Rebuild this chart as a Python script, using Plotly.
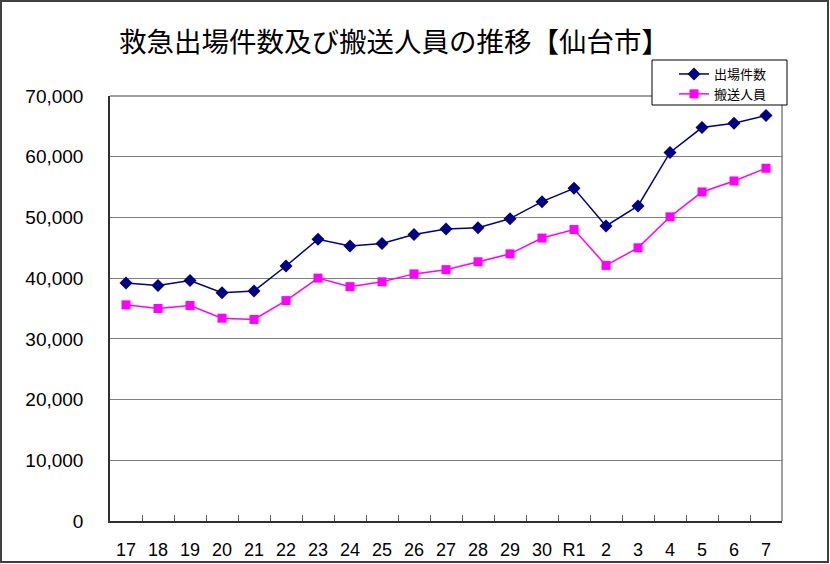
import plotly.graph_objects as go

# 年度 (平成17 ~ 令和7)
years = ["17", "18", "19", "20", "21", "22", "23", "24", "25", "26", "27",
         "28", "29", "30", "R1", "2", "3", "4", "5", "6", "7"]
# 出場件数
dispatches = [39200, 38800, 39600, 37600, 37900, 42000, 46400, 45300, 45700, 47200, 48100,
              48300, 49800, 52600, 54800, 48600, 51900, 60700, 64800, 65500, 66800]
# 搬送人員
transported = [35600, 35000, 35500, 33400, 33200, 36300, 40000, 38600, 39400, 40700, 41400,
               42700, 44000, 46600, 48000, 42100, 45000, 50100, 54200, 56000, 58100]

W, H = 830, 564
L, R, T, B = 110, 48, 96, 43
pw, ph = W - L - R, H - T - B


def px_x(x):
    return (x - L) / pw


def px_y(y):
    return (H - B - y) / ph


fig = go.Figure()
fig.add_trace(go.Scatter(x=years, y=dispatches, name="出場件数", mode="lines+markers",
                         line=dict(color="#000080", width=1.5),
                         marker=dict(symbol="diamond", size=10, color="#000080")))
fig.add_trace(go.Scatter(x=years, y=transported, name="搬送人員", mode="lines+markers",
                         line=dict(color="#FF00FF", width=1.5),
                         marker=dict(symbol="square", size=9, color="#FF00FF")))

# outer frame round the whole picture
fig.add_shape(type="rect", xref="paper", yref="paper",
              x0=px_x(1), x1=px_x(W - 2), y0=px_y(H - 2), y1=px_y(1),
              line=dict(color="#404040", width=2), layer="above")
# right and top edge of the plot area
fig.add_shape(type="line", xref="paper", yref="paper", x0=1, x1=1, y0=0, y1=1,
              line=dict(color="#808080", width=1.5))
fig.add_shape(type="line", xref="paper", yref="paper", x0=0, x1=1, y0=1, y1=1,
              line=dict(color="#808080", width=1.5))
# legend box
fig.add_shape(type="rect", xref="paper", yref="paper",
              x0=px_x(652), x1=px_x(787), y0=px_y(105), y1=px_y(60),
              line=dict(color="black", width=1), fillcolor="white", layer="above")

fig.update_layout(
    width=W, height=H,
    margin=dict(l=L, r=R, t=T, b=B, autoexpand=False),
    paper_bgcolor="white", plot_bgcolor="white",
    font=dict(family="Liberation Sans, Arial, sans-serif", color="black"),
    title=dict(text="救急出場件数及び搬送人員の推移【仙台市】",
               font=dict(family="Noto Sans CJK JP", size=27.5, color="black"),
               x=394 / W, xanchor="center", y=1 - 42 / H, yanchor="middle"),
    legend=dict(x=px_x(674), y=px_y(59), xanchor="left", yanchor="top",
                bgcolor="rgba(0,0,0,0)", borderwidth=0,
                font=dict(family="Noto Sans CJK JP", size=13),
                tracegroupgap=0, itemwidth=30),
    showlegend=True,
)
fig.update_xaxes(type="category", range=[-0.5, len(years) - 0.5],
                 showgrid=False, showline=True, linecolor="#303030",
                 linewidth=1.5, ticks="inside", tickson="boundaries",
                 ticklen=6, tickcolor="#606060", tickangle=0, automargin=False,
                 tickfont=dict(family="Liberation Sans Narrow, Arial Narrow, Liberation Sans", size=18),
                 ticklabelstandoff=12)
fig.update_yaxes(range=[0, 70000], dtick=10000, tickformat=",d", showgrid=True,
                 gridcolor="#808080", gridwidth=1, showline=True, linecolor="#303030",
                 linewidth=1.5, zeroline=False, automargin=False,
                 tickfont=dict(family="Liberation Sans, Arial", size=19),
                 ticklabelstandoff=21)

# page margin off, so the 830x564 figure fills the window
fig.write_html("out.html", config={"displayModeBar": False},
               post_script="document.body.style.margin='0';")
